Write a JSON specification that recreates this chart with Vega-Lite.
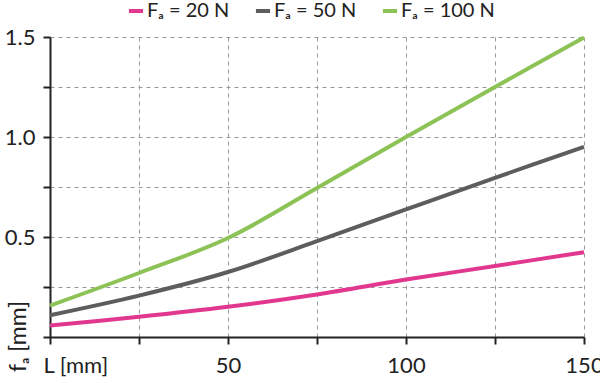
{
  "$schema": "https://vega.github.io/schema/vega-lite/v6.json",
  "width": 534,
  "height": 300,
  "autosize": {"type": "none"},
  "padding": {"left": 50, "top": 37, "right": 16, "bottom": 46},
  "background": "white",
  "config": {
    "font": "Lato",
    "view": {"stroke": null}
  },
  "data": {
    "values": [
      {"L": 0, "f": 0.058, "s": "Fₐ = 20 N"},
      {"L": 25, "f": 0.101, "s": "Fₐ = 20 N"},
      {"L": 50, "f": 0.151, "s": "Fₐ = 20 N"},
      {"L": 75, "f": 0.213, "s": "Fₐ = 20 N"},
      {"L": 100, "f": 0.287, "s": "Fₐ = 20 N"},
      {"L": 125, "f": 0.355, "s": "Fₐ = 20 N"},
      {"L": 150, "f": 0.424, "s": "Fₐ = 20 N"},
      {"L": 0, "f": 0.109, "s": "Fₐ = 50 N"},
      {"L": 25, "f": 0.207, "s": "Fₐ = 50 N"},
      {"L": 50, "f": 0.325, "s": "Fₐ = 50 N"},
      {"L": 75, "f": 0.479, "s": "Fₐ = 50 N"},
      {"L": 100, "f": 0.638, "s": "Fₐ = 50 N"},
      {"L": 125, "f": 0.796, "s": "Fₐ = 50 N"},
      {"L": 150, "f": 0.951, "s": "Fₐ = 50 N"},
      {"L": 0, "f": 0.157, "s": "Fₐ = 100 N"},
      {"L": 25, "f": 0.32, "s": "Fₐ = 100 N"},
      {"L": 50, "f": 0.495, "s": "Fₐ = 100 N"},
      {"L": 75, "f": 0.745, "s": "Fₐ = 100 N"},
      {"L": 100, "f": 1.0, "s": "Fₐ = 100 N"},
      {"L": 125, "f": 1.25, "s": "Fₐ = 100 N"},
      {"L": 150, "f": 1.497, "s": "Fₐ = 100 N"}
    ]
  },
  "mark": {"type": "line", "strokeWidth": 4, "interpolate": "catmull-rom"},
  "encoding": {
    "x": {
      "field": "L",
      "type": "quantitative",
      "scale": {"domain": [0, 150], "nice": false, "zero": false},
      "axis": {
        "values": [0, 25, 50, 75, 100, 125, 150],
        "title": null,
        "labelExpr": "datum.value == 0 ? 'L [mm]' : (datum.value % 50 == 0 ? datum.label : '')",
        "labelAlign": {"condition": {"test": "datum.value == 0", "value": "left"}, "value": "center"},
        "labelOffset": {"condition": {"test": "datum.value == 0", "value": -7}, "value": 0},
        "labelFontSize": 22,
        "labelColor": "#222222",
        "labelPadding": 11,
        "labelFlush": false,
        "labelOverlap": false,
        "domainColor": "#222222",
        "domainWidth": 2,
        "tickColor": "#222222",
        "tickWidth": 2,
        "tickSize": 7,
        "grid": true,
        "gridColor": "#999999",
        "gridDash": [4, 4],
        "gridWidth": 1
      }
    },
    "y": {
      "field": "f",
      "type": "quantitative",
      "scale": {"domain": [0, 1.5], "nice": false},
      "axis": {
        "values": [0, 0.25, 0.5, 0.75, 1, 1.25, 1.5],
        "title": "fₐ [mm]",
        "titleFontSize": 23,
        "titleFontWeight": "normal",
        "titleColor": "#222222",
        "titleAngle": -90,
        "titleAlign": "center",
        "titleBaseline": "middle",
        "titleX": -32,
        "titleY": 299,
        "labelExpr": "(datum.value * 100) % 50 == 0 && datum.value > 0 ? format(datum.value, '.1f') : ''",
        "labelFontSize": 22,
        "labelColor": "#222222",
        "labelPadding": 8,
        "labelFlush": false,
        "labelOverlap": false,
        "domainColor": "#222222",
        "domainWidth": 2,
        "tickColor": "#222222",
        "tickWidth": 2,
        "tickSize": 7,
        "grid": true,
        "gridColor": "#999999",
        "gridDash": [4, 4],
        "gridWidth": 1
      }
    },
    "color": {
      "field": "s",
      "type": "nominal",
      "sort": ["Fₐ = 20 N", "Fₐ = 50 N", "Fₐ = 100 N"],
      "scale": {"domain": ["Fₐ = 20 N", "Fₐ = 50 N", "Fₐ = 100 N"], "range": ["#e2378e", "#5d5d5d", "#8dc356"]},
      "legend": {
        "orient": "none",
        "direction": "horizontal",
        "legendX": 76,
        "legendY": -36,
        "title": null,
        "symbolType": "stroke",
        "symbolStrokeWidth": 4,
        "symbolSize": 200,
        "labelFontSize": 20,
        "labelColor": "#222222",
        "labelOffset": 1,
        "columnPadding": 17,
        "padding": 0
      }
    }
  }
}
